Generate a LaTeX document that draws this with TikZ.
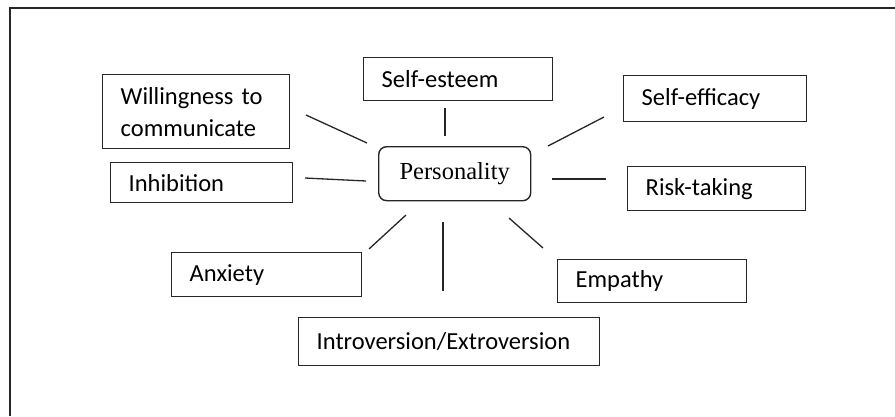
\documentclass[tikz,border=0pt]{standalone}
\usepackage{fontspec}
\setmainfont{Carlito}
\newfontfamily\perfont{Liberation Serif}
\begin{document}
\begin{tikzpicture}[x=1pt,y=-1pt,
  box/.style={draw=black!85, line width=1.4pt, anchor=north west, inner xsep=18pt, inner ysep=0pt,
    align=left, font=\fontsize{24.5}{32}\selectfont},
  link/.style={draw=black!85, line width=1.3pt},
  frame/.style={draw=black!85, line width=1.6pt}]
\useasboundingbox (0,0) rectangle (895,416);
\draw[frame] (10,416) -- (10,8) -- (895,8);
% nodes
\node[box, text width=151pt, minimum height=74pt] (will) at (102,74) {Willingness to\\communicate};
\node[box, text width=146pt, minimum height=40pt] (inh) at (110,162) {Inhibition};
\node[box, text width=153pt, minimum height=43pt] (self) at (363,57) {Self-esteem};
\node[box, text width=147pt, minimum height=46pt] (eff) at (623,75) {Self-efficacy};
\node[box, text width=142pt, minimum height=44pt] (risk) at (627,166) {Risk-taking};
\node[box, text width=154pt, minimum height=44pt] (anx) at (171,252) {Anxiety};
\node[box, text width=265pt, minimum height=48pt] (intro) at (298,317) {Introversion/Extroversion};
\node[box, text width=153pt, minimum height=43pt] (emp) at (557,259) {Empathy};
\node[draw=black!85, line width=1.4pt, rounded corners=8pt, anchor=north west,
  minimum width=152pt, minimum height=54pt, inner sep=0pt,
  font=\perfont\fontsize{24.5}{28}\selectfont] (per) at (378,146) {Personality};
% connector ends
\coordinate (w1) at (306,115); \coordinate (w2) at (367,143);
\coordinate (i1) at (305,178); \coordinate (i2) at (366,181);
\coordinate (s1) at (445,108); \coordinate (s2) at (445,136);
\coordinate (e1) at (548,146); \coordinate (e2) at (604,117);
\coordinate (r1) at (552,179); \coordinate (r2) at (606,179);
\coordinate (a1) at (369,249); \coordinate (a2) at (406,215);
\coordinate (n1) at (443,222); \coordinate (n2) at (443,291);
\coordinate (m1) at (509,218); \coordinate (m2) at (543,248);
\draw[link] (w1) -- (w2);
\draw[link] (i1) -- (i2);
\draw[link] (s1) -- (s2);
\draw[link] (e1) -- (e2);
\draw[link] (r1) -- (r2);
\draw[link] (a1) -- (a2);
\draw[link] (n1) -- (n2);
\draw[link] (m1) -- (m2);
\end{tikzpicture}
\end{document}
